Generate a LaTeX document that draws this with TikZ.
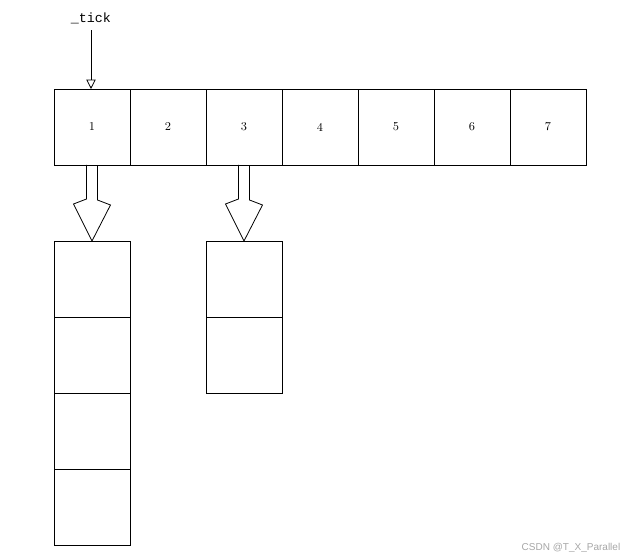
\documentclass[tikz,border=0pt]{standalone}
\usepackage{fontspec}
\newfontfamily\monofont{Liberation Mono}
\newfontfamily\markfont{Liberation Sans}
\usetikzlibrary{positioning,arrows.meta,calc}

\begin{document}
\begin{tikzpicture}[x=0.75pt,y=0.75pt,yscale=-1,xscale=1,
  cell/.style={draw,line width=0.6pt,minimum size=57pt,inner sep=0pt,outer sep=0pt,font=\fontsize{9}{10}\selectfont},
  bigarrow/.style={draw,line width=0.6pt,line join=miter}]
\useasboundingbox (0,0) rectangle (644,559);

% wheel slots
\node[cell] (c1) at (92,127) {1};
\foreach \i [remember=\i as \j (initially 1)] in {2,...,7}
  \node[cell,right=0pt of c\j] (c\i) {\i};

% lists hanging off slot 1 and slot 3
\node[cell] (a1) at (92,279) {};
\node[cell,below=0pt of a1] (a2) {};
\node[cell,below=0pt of a2] (a3) {};
\node[cell,below=0pt of a3] (a4) {};
\node[cell] (b1) at (244,279) {};
\node[cell,below=0pt of b1] (b2) {};

% pointer
\node[font=\monofont\fontsize{10}{12}\selectfont,inner sep=5pt] (tick) at (91,18) {\_tick};
\draw[line width=0.6pt,-{Triangle[open,width=7pt,length=7pt]}] (tick.south) -- (tick.south |- c1.north);

% block arrows
\draw[bigarrow] ($(c1.south)+(-5.5,0)$) -- ++(0,34) -- ++(-13,5) -- (a1.north) -- ++(18.5,-36) -- ++(-13,-5) -- ++(0,-34);
\draw[bigarrow] ($(c3.south)+(-5.5,0)$) -- ++(0,34) -- ++(-13,5) -- (b1.north) -- ++(18.5,-36) -- ++(-13,-5) -- ++(0,-34);

% watermark
\node[font=\markfont\fontsize{7.5}{9}\selectfont,text=gray!70] (mark) at (571,548) {CSDN @T\_X\_Parallel};
\end{tikzpicture}
\end{document}
